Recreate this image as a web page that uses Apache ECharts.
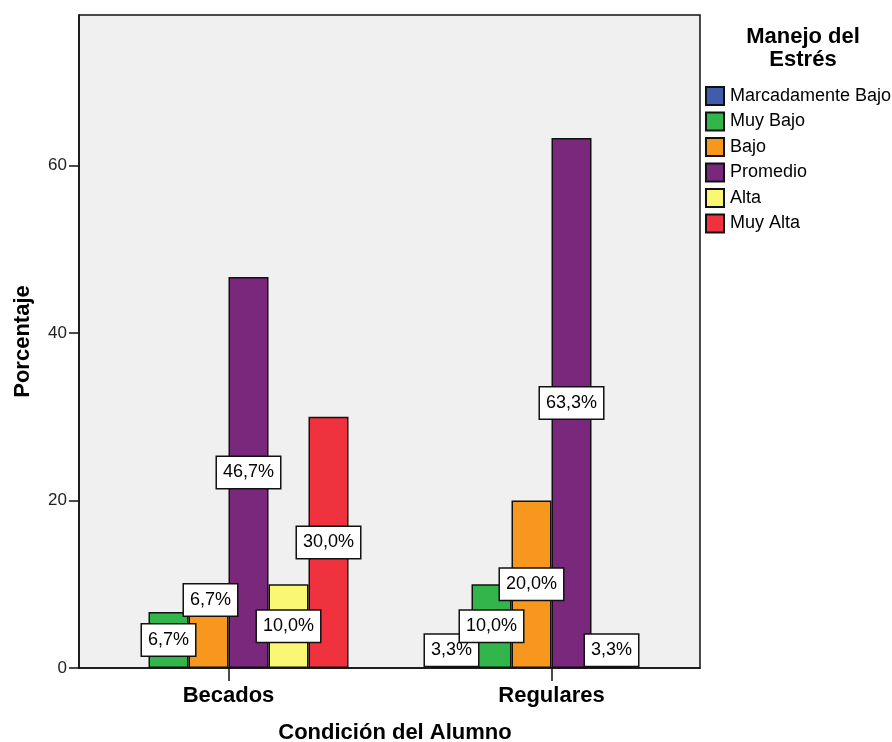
<!DOCTYPE html>
<html>
<head>
<meta charset="utf-8">
<script src="https://cdn.jsdelivr.net/npm/echarts@6/dist/echarts.min.js"></script>
<style>
html,body{margin:0;padding:0;background:#fff;}
#chart{width:892px;height:742px;}
</style>
</head>
<body>
<div id="chart"></div>
<script>
const categories = ['Becados', 'Regulares'];
const seriesNames = ['Marcadamente Bajo', 'Muy Bajo', 'Bajo', 'Promedio', 'Alta', 'Muy Alta'];
const marcadamenteBajo = [null, 3.3];
const muyBajo = [6.7, 10.0];
const bajo = [6.7, 20.0];
const promedio = [46.7, 63.3];
const alta = [10.0, 3.3];
const muyAlta = [30.0, null];
const yTicks = [0, 20, 40, 60];

const seriesValues = [marcadamenteBajo, muyBajo, bajo, promedio, alta, muyAlta];
const colors = ['#3f5dab', '#32b64b', '#f7971e', '#7a287b', '#faf774', '#ef323e'];
// label nudges to avoid overlaps (series index -> category index -> [dx, dy])
const labelNudge = { 0: { 1: [0, -4] }, 2: { 0: [2, -40] }, 4: { 1: [0, -4] } };

const FONT = 'Liberation Sans, Arial, sans-serif';
const chart = echarts.init(document.getElementById('chart'), null, { renderer: 'canvas' });

const series = seriesNames.map((name, si) => ({
  name: name,
  type: 'bar',
  xAxisIndex: 1,
  yAxisIndex: 1,
  barWidth: 40,
  barGap: '0%',
  itemStyle: { color: colors[si], borderColor: '#111', borderWidth: 1.5 },
  label: {
    show: true,
    position: 'inside',
    formatter: p => p.value == null ? '' : p.value.toFixed(1).replace('.', ',') + '%',
    color: '#000',
    fontSize: 18,
    fontFamily: FONT,
    backgroundColor: '#fff',
    borderColor: '#111',
    borderWidth: 1.5,
    padding: [7, 6, 6, 6]
  },
  data: seriesValues[si].map((v, ci) => {
    const item = { value: v };
    if (labelNudge[si] && labelNudge[si][ci]) item.label = { offset: labelNudge[si][ci] };
    return item;
  })
}));

chart.setOption({
  animation: false,
  backgroundColor: '#fff',
  title: {
    text: 'Manejo del\nEstrés',
    left: 803,
    top: 25,
    padding: 0,
    textAlign: 'center',
    textStyle: { fontSize: 22, fontWeight: 'bold', fontFamily: FONT, color: '#000', lineHeight: 23 }
  },
  legend: {
    orient: 'vertical',
    left: 705,
    top: 86,
    padding: 0,
    itemWidth: 18,
    itemHeight: 18,
    itemGap: 5.5,
    icon: 'rect',
    data: seriesNames,
    textStyle: { fontSize: 18, fontFamily: FONT, color: '#000', padding: [0, 0, 0, 1] }
  },
  grid: [
    { left: 79, right: 192, top: 15, bottom: 74, outerBoundsMode: 'none', show: true, backgroundColor: '#f0f0f0', borderColor: '#111', borderWidth: 1.5 },
    { left: 67, right: 179, top: 15, bottom: 74, outerBoundsMode: 'none' }
  ],
  xAxis: [
    {
      gridIndex: 0, type: 'category', data: categories,
      axisLine: { show: true, lineStyle: { color: '#111', width: 1.5 } },
      axisTick: { show: false }, axisLabel: { show: false }, splitLine: { show: false }
    },
    {
      gridIndex: 1, type: 'category', data: categories,
      axisLine: { show: false },
      axisTick: { show: true, alignWithLabel: true, length: 13, lineStyle: { color: '#111', width: 1.5 } },
      axisLabel: { margin: 17, fontSize: 22, fontWeight: 'bold', fontFamily: FONT, color: '#000' },
      name: 'Condición del Alumno', nameLocation: 'middle', nameGap: 54,
      nameTextStyle: { fontSize: 22, fontWeight: 'bold', fontFamily: FONT, color: '#000', padding: [0, 0, 0, 10] }
    }
  ],
  yAxis: [
    {
      gridIndex: 0, type: 'value', min: 0, max: 78, interval: 20,
      axisLine: { show: true, lineStyle: { color: '#111', width: 1.5 } },
      axisTick: { show: true, length: 10, customValues: yTicks, lineStyle: { color: '#111', width: 1.5 } },
      axisLabel: { customValues: yTicks, margin: 12, fontSize: 17, fontFamily: FONT, color: '#222' },
      splitLine: { show: false },
      name: 'Porcentaje', nameLocation: 'middle', nameGap: 45,
      nameTextStyle: { fontSize: 22, fontWeight: 'bold', fontFamily: FONT, color: '#000' }
    },
    { gridIndex: 1, type: 'value', min: 0, max: 78, show: false }
  ],
  series: series
});
</script>
</body>
</html>
